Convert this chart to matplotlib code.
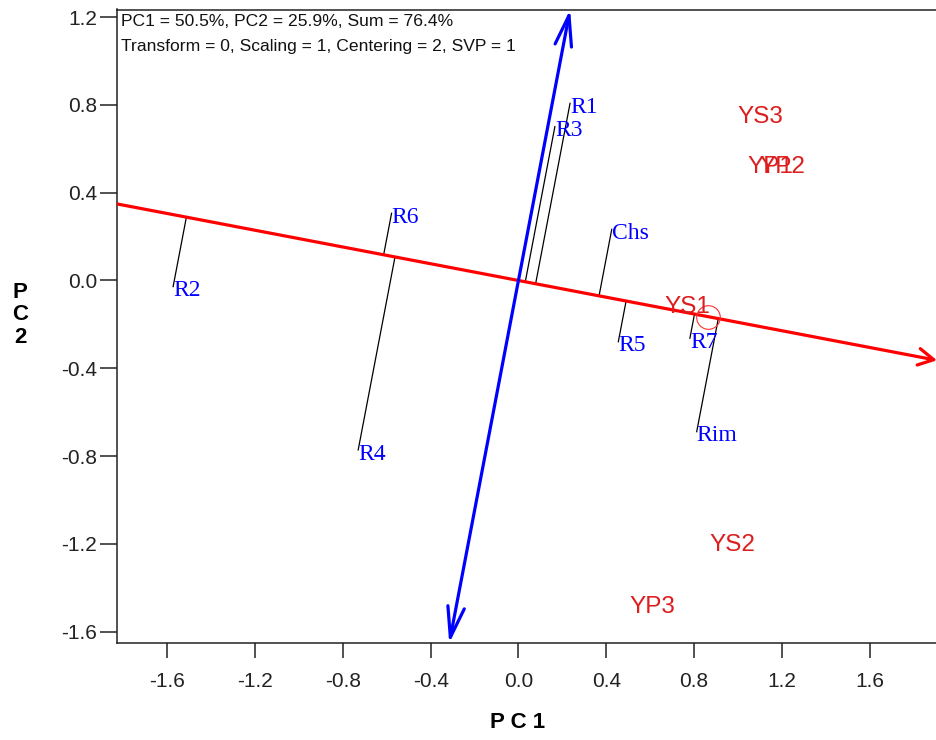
import numpy as np
import matplotlib
matplotlib.use("Agg")
import matplotlib.pyplot as plt

# Environment (tester) scores
env_names = ["R1", "R2", "R3", "R4", "R5", "R6", "R7", "Chs", "Rim"]
env_pc1 = [0.235, -1.573, 0.166, -0.730, 0.455, -0.578, 0.781, 0.425, 0.812]
env_pc2 = [0.807, -0.028, 0.701, -0.772, -0.279, 0.306, -0.263, 0.233, -0.689]

# Genotype (entry) scores
gen_names = ["YS1", "YS2", "YS3", "YP1", "YP2", "YP3"]
gen_pc1 = [0.768, 0.973, 1.100, 1.146, 1.200, 0.608]
gen_pc2 = [-0.121, -1.205, 0.745, 0.517, 0.517, -1.487]

# Average-environment coordinate
aec_pc1 = 0.865
aec_pc2 = -0.165

x_ticks = [-1.6, -1.2, -0.8, -0.4, 0.0, 0.4, 0.8, 1.2, 1.6]
y_ticks = [1.2, 0.8, 0.4, 0.0, -0.4, -0.8, -1.2, -1.6]
xlim = (-1.830, 1.9066)
ylim = (-1.653, 1.2346)

header1 = "PC1 = 50.5%, PC2 = 25.9%, Sum = 76.4%"
header2 = "Transform = 0, Scaling = 1, Centering = 2, SVP = 1"

W, H = 936, 740
fig = plt.figure(figsize=(W / 100, H / 100), dpi=100)
ax = fig.add_axes([116.7 / W, (H - 643.3) / H, (937 - 116.7) / W, (643.3 - 9.5) / H])
ax.set_xlim(*xlim)
ax.set_ylim(*ylim)
ax.spines["right"].set_visible(False)
for s in ("left", "bottom", "top"):
    ax.spines[s].set_linewidth(1.1)
    ax.spines[s].set_color("#222222")

ax.set_xticks(x_ticks)
ax.set_xticklabels([f"{t:.1f}" for t in x_ticks])
ax.set_yticks(y_ticks)
ax.set_yticklabels([f"{t:.1f}" for t in y_ticks])
ax.tick_params(axis="x", direction="out", length=11, width=1.1, pad=10,
               labelsize=15, colors="#222222")
ax.tick_params(axis="y", direction="out", length=12, width=1.1, pad=2,
               labelsize=15, colors="#222222")
for lab in ax.get_xticklabels() + ax.get_yticklabels():
    lab.set_family("Liberation Sans")

# Average-environment axis (through origin and the AEC point)
u = np.array([aec_pc1, aec_pc2])
u = u / np.linalg.norm(u)
slope = u[1] / u[0]
xl, xr = xlim
ax.plot([xl, 0], [slope * xl, 0], color="#FF0000", lw=2.3, solid_capstyle="butt", zorder=3)
ax.annotate("", xy=(xr, slope * xr), xytext=(0, 0),
            arrowprops=dict(arrowstyle="->,head_length=1.1,head_width=0.6",
                            color="#FF0000", lw=2.3, shrinkA=0, shrinkB=0),
            zorder=3)

# Perpendicular axis through origin
v = np.array([-u[1], u[0]])
yt, yb = ylim[1], ylim[0]
top = (v[0] / v[1] * yt, yt)
bot = (v[0] / v[1] * yb, yb)
for tip in (top, bot):
    ax.annotate("", xy=tip, xytext=(0, 0),
                arrowprops=dict(arrowstyle="->,head_length=2.2,head_width=0.6",
                                color="#0000FF", lw=2.3, shrinkA=0, shrinkB=0),
                zorder=3)

# Projections of environments onto the AEC axis
for x, y in zip(env_pc1, env_pc2):
    p = np.array([x, y])
    foot = np.dot(p, u) * u
    ax.plot([x, foot[0]], [y, foot[1]], color="black", lw=0.9, zorder=2)

# AEC marker
ax.plot([aec_pc1], [aec_pc2], marker="o", ms=17, mfc="none", mec="#FF3030",
        mew=0.8, zorder=4)

# Environment labels
for name, x, y in zip(env_names, env_pc1, env_pc2):
    ax.annotate(name, (x, y), xytext=(0, -3), textcoords="offset points",
                ha="left", va="center", color="#0000FF", fontsize=17,
                family="Liberation Serif", zorder=5)

# Genotype labels
for name, x, y in zip(gen_names, gen_pc1, gen_pc2):
    ax.text(x, y, name, ha="center", va="center", color="#DC1E1E",
            fontsize=17.5, family="Liberation Sans", zorder=5)

fig.text(121 / W, 1 - 22 / H, header1, ha="left", va="center",
         fontsize=12.6, family="Liberation Sans", color="#111111")
fig.text(121 / W, 1 - 46 / H, header2, ha="left", va="center",
         fontsize=12.6, family="Liberation Sans", color="#111111")

fig.text(518 / W, 1 - 722 / H, "P C 1", ha="center", va="center",
         fontsize=16, fontweight="bold", family="Liberation Sans")
fig.text(20 / W, 1 - 315 / H, "P\nC\n2", ha="center", va="center",
         fontsize=16, fontweight="bold", family="Liberation Sans", linespacing=1.1)

fig.savefig("out.png", dpi=100)
